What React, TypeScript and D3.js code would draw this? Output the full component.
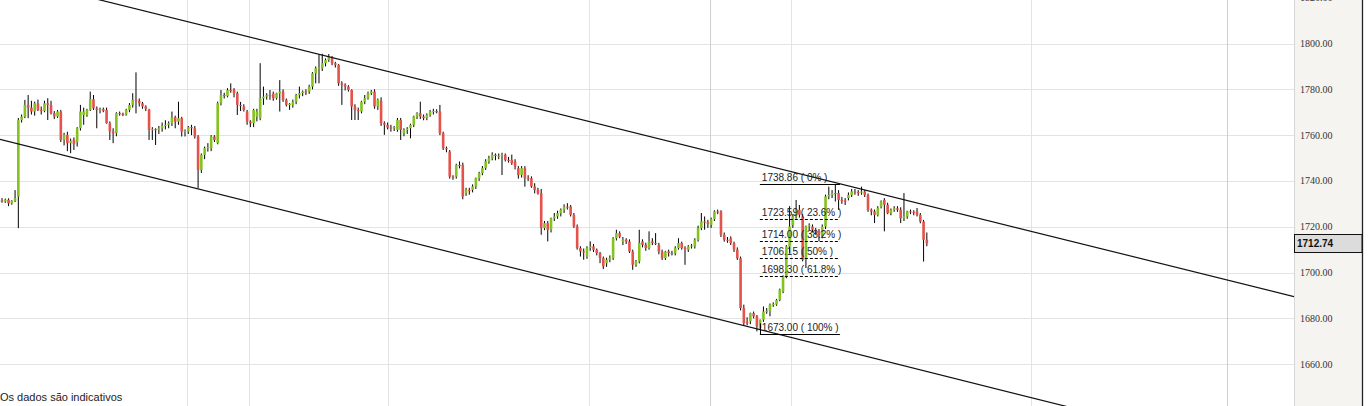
import React from "react";
import * as d3 from "d3";

// Daily-ish candles: [open, high, low, close]
const ohlc: [number, number, number, number][] = [
  [1731.5, 1732.5, 1730.5, 1731.0], [1731.0, 1732.3, 1730.4, 1731.8], [1731.8, 1732.4, 1729.0, 1730.2],
  [1730.2, 1731.6, 1729.6, 1731.3], [1731.3, 1736.0, 1730.8, 1732.4], [1733.2, 1767.5, 1719.4, 1766.6],
  [1766.6, 1769.0, 1765.5, 1768.1], [1768.1, 1775.4, 1767.4, 1773.2], [1773.2, 1777.5, 1767.4, 1772.0],
  [1772.0, 1775.0, 1769.0, 1770.3], [1770.3, 1774.6, 1768.5, 1773.9], [1773.9, 1775.5, 1770.5, 1771.0],
  [1771.0, 1772.5, 1769.0, 1770.5], [1770.5, 1775.0, 1770.0, 1773.9], [1773.9, 1776.1, 1766.6, 1773.2],
  [1773.2, 1775.0, 1769.0, 1769.6], [1769.6, 1770.5, 1767.0, 1768.1], [1768.1, 1771.0, 1767.5, 1770.3],
  [1770.3, 1771.0, 1757.0, 1757.9], [1757.9, 1761.0, 1755.5, 1760.1], [1760.1, 1761.5, 1753.0, 1756.5],
  [1756.5, 1758.5, 1752.1, 1757.5], [1758.0, 1759.0, 1753.5, 1756.0], [1757.0, 1763.5, 1755.0, 1763.0],
  [1763.0, 1773.2, 1762.0, 1770.3], [1768.8, 1772.0, 1764.5, 1770.3], [1768.8, 1771.5, 1768.0, 1771.0],
  [1771.0, 1779.0, 1770.5, 1775.7], [1775.7, 1777.5, 1771.0, 1771.7], [1771.7, 1772.5, 1763.0, 1771.0],
  [1771.0, 1772.0, 1769.5, 1771.3], [1771.3, 1772.0, 1770.0, 1770.6], [1771.0, 1772.0, 1765.0, 1765.2],
  [1765.2, 1766.0, 1757.9, 1761.6], [1761.6, 1763.0, 1756.5, 1760.8], [1760.8, 1770.0, 1759.5, 1769.6],
  [1769.6, 1770.3, 1768.5, 1769.3], [1769.3, 1769.8, 1768.3, 1768.8], [1769.0, 1771.5, 1768.5, 1771.0],
  [1771.0, 1774.0, 1770.0, 1773.2], [1773.2, 1778.3, 1772.0, 1775.4], [1775.4, 1787.4, 1769.5, 1775.0],
  [1775.0, 1776.0, 1772.5, 1773.9], [1773.9, 1774.5, 1771.5, 1772.5], [1772.5, 1773.0, 1770.5, 1771.5],
  [1771.0, 1771.5, 1757.9, 1762.3], [1762.3, 1763.5, 1757.9, 1762.6], [1762.6, 1763.0, 1755.7, 1762.3],
  [1762.3, 1764.0, 1760.5, 1763.0], [1763.0, 1765.5, 1761.5, 1764.1], [1764.1, 1766.5, 1762.5, 1764.5],
  [1764.5, 1766.0, 1763.0, 1765.2], [1765.2, 1770.3, 1764.0, 1767.8], [1767.8, 1768.5, 1763.0, 1765.9],
  [1765.9, 1774.6, 1764.5, 1767.4], [1767.4, 1768.0, 1759.4, 1761.6], [1761.6, 1762.5, 1759.4, 1761.9],
  [1761.6, 1764.0, 1760.5, 1763.5], [1763.5, 1764.5, 1760.0, 1763.0], [1763.0, 1764.0, 1758.5, 1759.4],
  [1759.4, 1760.0, 1736.8, 1744.8], [1744.8, 1752.0, 1743.5, 1751.4], [1751.4, 1755.0, 1749.5, 1754.3],
  [1754.3, 1756.5, 1752.8, 1754.8], [1754.3, 1760.0, 1753.0, 1759.4], [1759.4, 1760.0, 1757.0, 1757.9],
  [1756.5, 1774.6, 1756.0, 1773.9], [1773.9, 1779.7, 1773.0, 1777.5], [1777.5, 1778.5, 1776.0, 1777.0],
  [1777.0, 1780.5, 1776.5, 1779.7], [1779.7, 1782.6, 1778.5, 1779.3], [1779.7, 1780.5, 1776.5, 1778.3],
  [1778.3, 1779.0, 1768.8, 1773.2], [1773.2, 1774.5, 1770.5, 1772.8], [1772.5, 1773.5, 1770.3, 1771.0],
  [1770.3, 1771.0, 1764.5, 1765.9], [1765.9, 1766.5, 1763.5, 1765.2], [1765.2, 1771.5, 1763.5, 1771.0],
  [1768.0, 1771.5, 1766.0, 1770.3], [1767.4, 1791.4, 1766.5, 1776.1], [1776.1, 1781.2, 1773.2, 1776.8],
  [1776.8, 1778.3, 1775.5, 1777.5], [1777.5, 1779.7, 1775.4, 1777.0], [1778.0, 1779.0, 1775.0, 1776.1],
  [1776.1, 1778.5, 1775.5, 1778.3], [1778.3, 1784.0, 1770.3, 1779.0], [1779.0, 1780.0, 1774.5, 1775.4],
  [1775.4, 1776.0, 1772.5, 1773.2], [1773.2, 1774.0, 1771.0, 1773.6], [1773.2, 1775.5, 1772.0, 1774.6],
  [1774.6, 1778.0, 1773.5, 1777.5], [1777.5, 1781.2, 1776.0, 1778.3], [1778.3, 1779.5, 1777.0, 1779.0],
  [1779.0, 1780.0, 1777.5, 1778.6], [1779.0, 1782.0, 1778.0, 1781.2], [1781.2, 1787.5, 1780.0, 1787.0],
  [1787.0, 1790.0, 1782.6, 1789.2], [1789.2, 1795.0, 1782.6, 1789.5], [1789.2, 1795.5, 1788.0, 1791.4],
  [1791.4, 1793.5, 1790.0, 1792.8], [1792.8, 1795.4, 1792.0, 1794.3], [1793.5, 1794.5, 1790.5, 1791.4],
  [1791.4, 1792.0, 1789.5, 1790.7], [1790.7, 1791.0, 1781.5, 1782.6], [1782.6, 1783.5, 1773.2, 1782.0],
  [1782.0, 1782.6, 1779.5, 1781.2], [1781.2, 1781.8, 1779.0, 1779.7], [1779.7, 1780.0, 1766.6, 1772.5],
  [1772.5, 1773.5, 1766.6, 1771.0], [1771.0, 1772.0, 1766.6, 1770.8], [1770.3, 1775.0, 1769.5, 1774.6],
  [1774.6, 1777.5, 1773.5, 1776.1], [1776.1, 1779.0, 1775.5, 1778.3], [1778.3, 1779.7, 1777.5, 1779.0],
  [1779.0, 1780.0, 1771.5, 1772.5], [1772.5, 1776.0, 1771.0, 1775.4], [1775.0, 1776.5, 1764.0, 1765.2],
  [1765.2, 1766.0, 1760.1, 1764.5], [1764.5, 1765.5, 1762.5, 1763.3], [1763.3, 1764.5, 1761.5, 1763.0],
  [1763.0, 1764.0, 1761.8, 1763.5], [1762.3, 1767.5, 1761.5, 1766.6], [1766.6, 1767.5, 1757.9, 1762.3],
  [1760.8, 1763.0, 1759.5, 1762.3], [1762.3, 1763.5, 1760.5, 1762.8], [1763.0, 1765.0, 1758.6, 1764.5],
  [1764.5, 1768.5, 1763.5, 1768.1], [1768.1, 1770.0, 1767.0, 1769.6], [1769.6, 1774.6, 1767.0, 1768.1],
  [1768.1, 1769.0, 1766.5, 1767.4], [1767.4, 1769.5, 1766.5, 1768.8], [1768.8, 1771.0, 1768.0, 1770.3],
  [1770.3, 1771.5, 1769.0, 1770.5], [1770.5, 1771.3, 1769.5, 1770.0], [1770.3, 1773.2, 1760.0, 1760.8],
  [1760.8, 1761.5, 1753.5, 1754.3], [1754.3, 1755.0, 1752.5, 1753.8], [1752.8, 1753.5, 1741.0, 1741.9],
  [1741.9, 1742.5, 1740.5, 1741.6], [1741.9, 1747.5, 1741.0, 1747.0], [1747.0, 1748.5, 1745.5, 1746.5],
  [1747.0, 1748.0, 1732.0, 1733.2], [1734.7, 1737.0, 1733.5, 1736.1], [1736.1, 1737.0, 1734.0, 1735.8],
  [1736.1, 1738.5, 1735.0, 1737.6], [1737.6, 1741.5, 1736.5, 1741.2], [1741.2, 1744.0, 1740.0, 1743.4],
  [1743.4, 1746.5, 1742.5, 1745.6], [1745.6, 1749.5, 1744.8, 1748.5], [1748.5, 1751.0, 1747.5, 1749.9],
  [1749.9, 1752.5, 1749.0, 1751.4], [1751.4, 1752.0, 1749.0, 1750.9], [1750.9, 1752.0, 1749.5, 1751.0],
  [1751.0, 1752.3, 1742.6, 1751.4], [1751.4, 1752.0, 1748.5, 1749.2], [1749.2, 1750.5, 1748.0, 1748.9],
  [1749.2, 1751.5, 1747.0, 1747.7], [1748.4, 1749.5, 1745.0, 1746.3], [1745.6, 1746.5, 1741.0, 1742.6],
  [1742.6, 1746.5, 1741.5, 1745.6], [1745.6, 1746.5, 1737.5, 1741.2], [1741.2, 1742.5, 1740.0, 1741.0],
  [1741.2, 1742.0, 1737.0, 1737.6], [1737.6, 1739.0, 1734.6, 1736.1], [1736.1, 1737.0, 1734.0, 1734.6],
  [1734.6, 1736.5, 1716.5, 1719.4], [1719.4, 1722.5, 1718.5, 1721.6], [1721.6, 1722.5, 1713.6, 1718.7],
  [1718.7, 1724.0, 1717.5, 1723.7], [1723.7, 1726.0, 1722.5, 1724.5], [1724.5, 1727.0, 1723.5, 1725.9],
  [1725.9, 1728.0, 1724.5, 1727.4], [1727.4, 1729.8, 1726.0, 1728.8], [1728.8, 1730.3, 1727.5, 1728.5],
  [1728.8, 1729.5, 1724.5, 1725.2], [1725.2, 1726.0, 1719.5, 1720.1], [1720.1, 1721.0, 1710.0, 1710.7],
  [1710.7, 1711.5, 1707.0, 1709.2], [1709.2, 1710.5, 1705.6, 1709.0], [1707.0, 1711.5, 1706.0, 1710.7],
  [1710.7, 1713.6, 1709.5, 1711.4], [1711.4, 1712.5, 1709.0, 1709.9], [1709.9, 1710.5, 1707.5, 1708.5],
  [1708.5, 1709.0, 1704.1, 1706.3], [1706.3, 1707.0, 1701.5, 1702.7], [1704.1, 1706.5, 1702.5, 1705.6],
  [1705.6, 1707.5, 1704.5, 1706.3], [1706.3, 1715.5, 1705.5, 1715.0], [1715.0, 1718.7, 1714.0, 1717.2],
  [1717.2, 1718.0, 1715.0, 1715.7], [1713.6, 1715.5, 1712.0, 1714.3], [1714.3, 1715.0, 1712.5, 1713.6],
  [1713.6, 1714.5, 1708.5, 1709.2], [1709.2, 1710.0, 1701.2, 1703.4], [1703.4, 1705.5, 1702.5, 1704.9],
  [1704.9, 1718.7, 1704.0, 1712.9], [1713.6, 1714.5, 1711.0, 1712.1], [1712.1, 1713.0, 1709.5, 1710.7],
  [1710.7, 1718.0, 1710.0, 1713.6], [1713.6, 1715.0, 1712.0, 1712.9], [1712.9, 1717.2, 1712.0, 1712.6],
  [1712.1, 1713.0, 1708.0, 1709.2], [1709.2, 1710.0, 1705.5, 1706.3], [1706.3, 1709.5, 1705.5, 1709.2],
  [1709.2, 1710.0, 1707.0, 1708.5], [1708.5, 1709.5, 1707.5, 1708.3], [1708.5, 1711.5, 1707.5, 1710.7],
  [1710.7, 1715.0, 1710.0, 1712.9], [1712.9, 1713.5, 1710.0, 1710.7], [1710.7, 1711.5, 1703.4, 1710.4],
  [1710.0, 1712.0, 1709.0, 1711.4], [1711.4, 1712.5, 1710.5, 1711.8], [1711.4, 1715.0, 1710.5, 1714.3],
  [1714.3, 1720.5, 1713.5, 1719.4], [1719.4, 1726.0, 1718.5, 1722.3], [1722.3, 1724.5, 1718.7, 1722.0],
  [1722.0, 1723.0, 1719.5, 1721.3], [1720.8, 1724.0, 1719.5, 1723.3], [1723.3, 1727.2, 1722.5, 1726.7],
  [1726.7, 1727.5, 1725.5, 1726.5], [1726.7, 1727.2, 1715.5, 1716.5], [1716.5, 1717.5, 1713.5, 1714.3],
  [1714.3, 1715.5, 1713.0, 1714.0], [1715.0, 1715.8, 1712.0, 1712.9], [1712.9, 1713.5, 1709.0, 1710.0],
  [1710.0, 1711.0, 1705.5, 1706.3], [1706.3, 1707.0, 1683.5, 1684.5], [1684.5, 1686.0, 1676.8, 1678.0],
  [1678.5, 1680.5, 1677.0, 1678.0], [1678.7, 1682.5, 1677.5, 1682.3], [1682.3, 1683.0, 1680.0, 1680.9],
  [1680.9, 1681.5, 1674.3, 1676.5], [1675.8, 1679.5, 1675.0, 1679.4], [1679.4, 1685.2, 1678.5, 1683.0],
  [1683.0, 1684.5, 1682.0, 1683.3], [1683.0, 1686.5, 1680.9, 1686.0], [1686.0, 1687.0, 1685.0, 1686.3],
  [1686.0, 1688.5, 1685.5, 1688.1], [1688.1, 1693.0, 1687.5, 1692.5], [1691.8, 1698.8, 1691.0, 1698.3],
  [1698.3, 1712.0, 1697.5, 1711.4], [1711.4, 1729.0, 1708.5, 1720.1], [1720.8, 1725.5, 1719.5, 1724.5],
  [1724.5, 1731.7, 1723.5, 1727.4], [1727.4, 1729.5, 1724.0, 1725.2], [1724.5, 1725.5, 1704.9, 1705.6],
  [1705.6, 1720.5, 1702.0, 1720.1], [1720.1, 1721.5, 1718.5, 1720.8], [1720.1, 1721.0, 1717.5, 1718.7],
  [1718.7, 1719.5, 1716.5, 1718.0], [1718.0, 1719.0, 1713.6, 1716.5], [1715.8, 1721.0, 1715.0, 1720.1],
  [1720.1, 1734.0, 1719.0, 1733.2], [1733.2, 1737.5, 1732.0, 1733.9], [1733.9, 1736.0, 1732.5, 1734.7],
  [1734.7, 1738.3, 1731.0, 1734.3], [1734.7, 1736.0, 1727.4, 1731.7], [1731.7, 1733.0, 1730.0, 1731.5],
  [1731.5, 1732.5, 1729.5, 1731.0], [1732.5, 1735.0, 1731.5, 1733.9], [1733.9, 1736.5, 1733.0, 1735.4],
  [1735.4, 1736.5, 1734.0, 1735.2], [1735.2, 1736.0, 1733.5, 1734.9], [1734.9, 1737.5, 1734.0, 1735.4],
  [1735.4, 1736.0, 1733.0, 1733.9], [1733.9, 1734.5, 1726.5, 1727.4], [1727.4, 1728.0, 1725.0, 1726.7],
  [1726.7, 1727.5, 1721.6, 1725.2], [1725.2, 1729.0, 1724.5, 1728.1], [1728.8, 1731.5, 1728.0, 1731.0],
  [1731.7, 1732.5, 1718.0, 1729.6], [1729.6, 1730.5, 1725.5, 1725.9], [1725.9, 1728.0, 1725.0, 1727.4],
  [1727.4, 1729.0, 1726.5, 1728.1], [1728.1, 1729.0, 1726.5, 1727.4], [1727.4, 1728.5, 1721.6, 1723.7],
  [1723.7, 1734.7, 1722.5, 1724.5], [1724.5, 1727.0, 1723.5, 1726.7], [1726.7, 1727.5, 1725.5, 1726.5],
  [1726.5, 1727.2, 1725.0, 1726.2], [1726.7, 1728.2, 1724.5, 1725.2], [1725.2, 1726.0, 1721.5, 1722.3],
  [1722.3, 1723.0, 1704.8, 1714.3], [1714.3, 1717.5, 1711.5, 1712.74],
];

// Price axis ticks
const priceTicks = [1660, 1680, 1700, 1720, 1740, 1760, 1780, 1800, 1820];

// Session separators (candle index positions); major ones drawn darker
const dateBreaks = [56.5, 75.5, 118, 179.5, 216.5, 241.5, 315, 375];
const majorBreaks = [216.5, 375];

// Trend channel anchors: [candle index, price]
const channelUpper: [number, number][] = [[100, 1794.2], [280, 1730.4]];
const channelLower: [number, number][] = [[60, 1736.5], [231, 1675.4]];

// Fibonacci retracement
const fibPrices = [1738.86, 1723.59, 1714.0, 1706.15, 1698.3, 1673.0];
const fibPercents = ["0%", "23.6%", "38.2%", "50%", "61.8%", "100%"];
const fibSpan: [number, number] = [231.9, 256.4];
const fibAnchorTop = 1677.8;

const footnote = "Os dados são indicativos";

const W = 1368;
const H = 406;
const PLOT_RIGHT = 1294;
const AXIS_RIGHT = 1362;

const GREEN = "#84c21f";
const RED = "#e4524b";

export default function App() {
  const x = d3.scaleLinear().domain([-0.612, 395.35]).range([0, PLOT_RIGHT]);
  const y = d3.scaleLinear().domain([1660, 1800]).range([364.2, 43.5]);
  const fmt = d3.format(".2f");
  const [xd0, xd1] = x.domain();

  const channel = (pts: [number, number][]) => {
    const s = d3.scaleLinear().domain([pts[0][0], pts[1][0]]).range([pts[0][1], pts[1][1]]);
    const line = d3.line<number>().x((i) => x(i)).y((i) => y(s(i)));
    return line([xd0, xd1]) || "";
  };

  const bodyW = 2.6;
  const last = ohlc[ohlc.length - 1][3];
  const lastY = y(last);

  return (
    <svg
      width={W}
      height={H}
      style={{ position: "absolute", left: 0, top: 0, background: "#fff" }}
    >
      <defs>
        <clipPath id="plot">
          <rect x={0} y={0} width={PLOT_RIGHT} height={H} />
        </clipPath>
      </defs>
      <rect x={0} y={0} width={W} height={H} fill="#fff" />

      {/* grid */}
      <g>
        {priceTicks.map((p) => (
          <line key={p} x1={0} x2={PLOT_RIGHT} y1={Math.round(y(p)) + 0.5} y2={Math.round(y(p)) + 0.5} stroke="#e3e3e3" />
        ))}
        {dateBreaks.map((d) => (
          <line
            key={d}
            x1={Math.round(x(d)) + 0.5}
            x2={Math.round(x(d)) + 0.5}
            y1={0}
            y2={H}
            stroke={majorBreaks.includes(d) ? "#cfcfcf" : "#e3e3e3"}
          />
        ))}
      </g>

      <g clipPath="url(#plot)">
        {/* candles */}
        {ohlc.map(([o, h, l, c], i) => {
          const cx = x(i);
          const top = y(Math.max(o, c));
          const bot = y(Math.min(o, c));
          return (
            <g key={i}>
              <line x1={cx} x2={cx} y1={y(h)} y2={y(l)} stroke="#000" strokeWidth={1} />
              <rect
                x={cx - bodyW / 2}
                y={top}
                width={bodyW}
                height={Math.max(1, bot - top)}
                fill={c >= o ? GREEN : RED}
              />
            </g>
          );
        })}

        {/* trend channel */}
        <path d={channel(channelUpper)} stroke="#111" strokeWidth={1.2} fill="none" />
        <path d={channel(channelLower)} stroke="#111" strokeWidth={1.2} fill="none" />

        {/* fibonacci levels */}
        {fibPrices.map((p, k) => {
          const solid = k === 0 || k === fibPrices.length - 1;
          const ly = Math.round(y(p)) + 0.5;
          return (
            <g key={p}>
              <line
                x1={x(fibSpan[0])}
                x2={x(fibSpan[1])}
                y1={ly}
                y2={ly}
                stroke="#000"
                strokeWidth={1}
                strokeDasharray={solid ? undefined : "3,2"}
              />
              <text
                x={x(fibSpan[0]) + 2}
                y={ly - 4}
                fontFamily="Liberation Sans, Arial, sans-serif"
                fontSize={10}
                fill="#222"
              >
                {`${fmt(p)} ( ${fibPercents[k]} )`}
              </text>
            </g>
          );
        })}
        <line
          x1={Math.round(x(fibSpan[0])) + 0.5}
          x2={Math.round(x(fibSpan[0])) + 0.5}
          y1={y(fibAnchorTop)}
          y2={Math.round(y(fibPrices[fibPrices.length - 1])) + 0.5}
          stroke="#000"
        />
      </g>

      {/* price axis panel */}
      <rect x={PLOT_RIGHT} y={0} width={AXIS_RIGHT - PLOT_RIGHT} height={H} fill="#f5f4f1" />
      <line x1={PLOT_RIGHT + 0.5} x2={PLOT_RIGHT + 0.5} y1={0} y2={H} stroke="#d6d6d6" />
      <line x1={AXIS_RIGHT + 0.5} x2={AXIS_RIGHT + 0.5} y1={0} y2={H} stroke="#222" strokeWidth={1.3} />
      {priceTicks.map((p) => (
        <text
          key={p}
          x={PLOT_RIGHT + 6}
          y={y(p)}
          dy="0.35em"
          fontFamily="Liberation Serif, Times New Roman, serif"
          fontSize={10}
          fill="#333"
        >
          {fmt(p)}
        </text>
      ))}
      <rect
        x={PLOT_RIGHT + 0.5}
        y={Math.round(lastY) - 9 + 0.5}
        width={AXIS_RIGHT - PLOT_RIGHT - 0.5}
        height={18}
        fill="#dcdcdc"
        stroke="#111"
      />
      <text
        x={PLOT_RIGHT + 3}
        y={lastY}
        dy="0.36em"
        fontFamily="Liberation Sans, Arial, sans-serif"
        fontSize={10}
        fontWeight="bold"
        fill="#111"
      >
        {fmt(last)}
      </text>

      <text x={0} y={401} fontFamily="Liberation Sans, Arial, sans-serif" fontSize={11} fill="#222">
        {footnote}
      </text>
    </svg>
  );
}
